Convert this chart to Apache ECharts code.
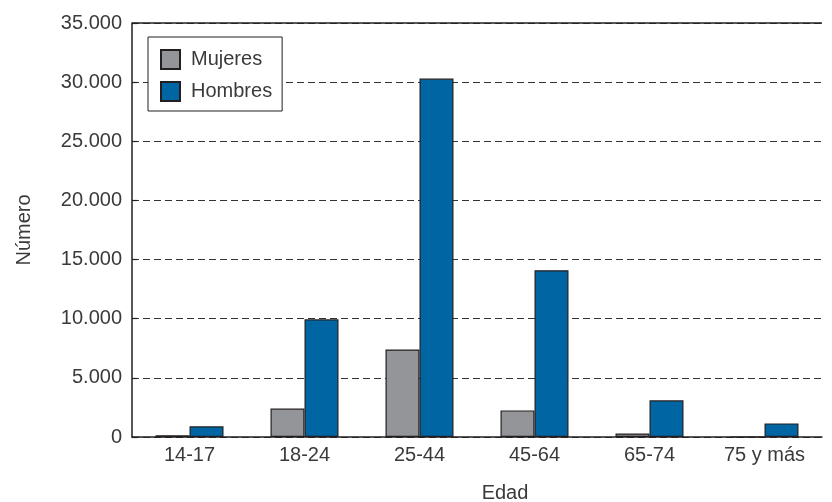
<!DOCTYPE html>
<html>
<head>
<meta charset="utf-8">
<script src="https://cdn.jsdelivr.net/npm/echarts@6/dist/echarts.min.js"></script>
<style>
html,body{margin:0;padding:0;background:#fff;overflow:hidden;}
#chart{width:832px;height:502px;}
</style>
</head>
<body>
<div id="chart"></div>
<script>
var categories = ['14-17', '18-24', '25-44', '45-64', '65-74', '75 y más'];
var mujeres = [150, 2400, 7400, 2250, 300, 0];
var hombres = [900, 9950, 30300, 14100, 3100, 1150];
var seriesNames = ['Mujeres', 'Hombres'];
var yAxisName = 'Número';
var xAxisName = 'Edad';

var FONT = 'Liberation Sans, Arial, sans-serif';
var TXT = '#3a3a3a';
var LINE = '#231f20';

function fmt(v) {
  return String(v).replace(/\B(?=(\d{3})+(?!\d))/g, '.');
}

var chart = echarts.init(document.getElementById('chart'), null, {renderer: 'canvas'});
chart.setOption({
  animation: false,
  backgroundColor: '#fff',
  textStyle: {fontFamily: FONT},
  grid: {left: 132, right: 10, top: 23, bottom: 65, containLabel: false, outerBoundsMode: 'none'},
  legend: {
    orient: 'vertical',
    left: 148,
    top: 37,
    padding: [12, 10, 9, 12],
    itemGap: 11,
    itemWidth: 19,
    itemHeight: 19,
    icon: 'rect',
    backgroundColor: '#fff',
    borderColor: LINE,
    borderWidth: 1,
    borderRadius: 0,
    data: seriesNames,
    textStyle: {fontSize: 20, lineHeight: 19, color: TXT, fontFamily: FONT, padding: [0, 0, 0, 6]}
  },
  xAxis: {
    type: 'category',
    data: categories,
    name: xAxisName,
    nameLocation: 'middle',
    nameGap: 46,
    nameTextStyle: {fontSize: 20, color: TXT, fontFamily: FONT, padding: [0, 0, 0, 56]},
    axisLine: {lineStyle: {color: LINE, width: 1.5}},
    axisTick: {inside: true, length: 10, lineStyle: {color: LINE, width: 1.2}},
    axisLabel: {fontSize: 20, color: TXT, fontFamily: FONT, margin: 8}
  },
  yAxis: {
    type: 'value',
    min: 0,
    max: 35000,
    interval: 5000,
    name: yAxisName,
    nameLocation: 'middle',
    nameGap: 98,
    nameRotate: 90,
    nameTextStyle: {fontSize: 20, color: TXT, fontFamily: FONT},
    axisLine: {show: true, lineStyle: {color: LINE, width: 1.5}},
    axisTick: {show: true, inside: true, length: 5, lineStyle: {color: LINE, width: 1.2}},
    axisLabel: {fontSize: 20, color: TXT, fontFamily: FONT, margin: 10, formatter: fmt},
    splitLine: {show: true, lineStyle: {color: '#333', width: 1, type: [7, 4]}}
  },
  series: [
    {
      name: seriesNames[0],
      type: 'bar',
      data: mujeres,
      barWidth: 34,
      barGap: '0%',
      itemStyle: {color: '#939598', borderColor: LINE, borderWidth: 1.2},
      markLine: {
        silent: true,
        symbol: 'none',
        label: {show: false},
        lineStyle: {color: LINE, width: 1.5, type: 'solid'},
        data: [{yAxis: 35000}]
      }
    },
    {
      name: seriesNames[1],
      type: 'bar',
      data: hombres,
      barWidth: 34,
      barGap: '0%',
      itemStyle: {color: '#0066a3', borderColor: LINE, borderWidth: 1.2}
    }
  ]
});
</script>
</body>
</html>
